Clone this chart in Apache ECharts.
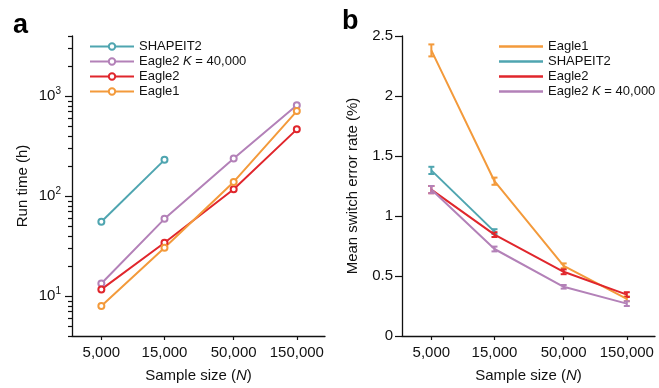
<!DOCTYPE html>
<html>
<head>
<meta charset="utf-8">
<script src="https://cdn.jsdelivr.net/npm/echarts@6/dist/echarts.min.js"></script>
<style>
  html, body { margin: 0; padding: 0; background: #fff; }
  #main { width: 659px; height: 388px; }
</style>
</head>
<body>
<div id="main"></div>
<script>
// sample sizes (x, log scaled in both panels)
var sampleSizes = [5000, 15000, 50000, 150000];

// panel a: run time in hours
var runShapeit2 = [55.5, 231];
var runEagle2K = [13.4, 59.4, 238, 811];
var runEagle2 = [11.7, 34.2, 117.5, 466];
var runEagle1 = [8.0, 30.5, 139, 710];

// panel b: mean switch error rate (%) and half-width of error bars
var errEagle1 = [2.38, 1.29, 0.585, 0.31];
var errShapeit2 = [1.38, 0.87];
var errEagle2 = [1.22, 0.845, 0.535, 0.345];
var errEagle2K = [1.22, 0.725, 0.41, 0.27];
var sdEagle1 = [0.05, 0.03, 0.02, 0.02];
var sdShapeit2 = [0.03, 0.02];
var sdEagle2 = [0.03, 0.02, 0.02, 0.02];
var sdEagle2K = [0.03, 0.02, 0.015, 0.02];

var runMajorTicks = [10, 100, 1000];
var runMinorTicks = [4, 5, 6, 7, 8, 9, 20, 30, 40, 50, 60, 70, 80, 90,
  200, 300, 400, 500, 600, 700, 800, 900, 2000, 3000, 4000];

var NAME_S = 'SHAPEIT2';
var NAME_K = 'Eagle2 K = 40,000';
var NAME_2 = 'Eagle2';
var NAME_1 = 'Eagle1';

var colors = {};
colors[NAME_S] = '#4fa5b0';
colors[NAME_K] = '#b381b8';
colors[NAME_2] = '#e0262c';
colors[NAME_1] = '#f39a3b';

var FONT = 'Liberation Sans, Arial, sans-serif';

var chartDom = document.getElementById('main');
var myChart = echarts.init(chartDom, null, { renderer: 'canvas' });

const pairs = (vals) => vals.map((v, i) => [sampleSizes[i], v]);
const bars = (vals, sd) => vals.map((v, i) => [sampleSizes[i], v - sd[i], v + sd[i]]);
const fmtN = (v) => Number(v).toLocaleString('en-US');
const italicK = (name) => name.replace(' K ', ' {i|K} ');

function xAxisFor(gridIndex) {
  return {
    type: 'log',
    gridIndex: gridIndex,
    min: 3000,
    max: 245000,
    name: 'Sample size ({i|N})',
    nameLocation: 'middle',
    nameGap: 32,
    nameTextStyle: {
      fontSize: 15, color: '#111', fontFamily: FONT,
      rich: { i: { fontStyle: 'italic', fontSize: 15, fontFamily: FONT, color: '#111' } }
    },
    axisLine: { lineStyle: { color: '#111', width: 1.3 } },
    axisTick: { show: true, length: 4, customValues: sampleSizes, lineStyle: { color: '#111', width: 1.2 } },
    axisLabel: { customValues: sampleSizes, formatter: fmtN, fontSize: 15, color: '#111', fontFamily: FONT, margin: 9 },
    splitLine: { show: false },
    minorTick: { show: false }
  };
}

function errorBars(name, vals, sd) {
  return {
    name: name,
    type: 'custom',
    xAxisIndex: 1,
    yAxisIndex: 2,
    data: bars(vals, sd),
    z: 3,
    renderItem: function (params, api) {
      var lo = api.coord([api.value(0), api.value(1)]);
      var hi = api.coord([api.value(0), api.value(2)]);
      var style = { stroke: colors[name], lineWidth: 2 };
      var cap = 3;
      return {
        type: 'group',
        children: [
          { type: 'line', shape: { x1: lo[0], y1: lo[1], x2: hi[0], y2: hi[1] }, style: style },
          { type: 'line', shape: { x1: lo[0] - cap, y1: lo[1], x2: lo[0] + cap, y2: lo[1] }, style: style },
          { type: 'line', shape: { x1: hi[0] - cap, y1: hi[1], x2: hi[0] + cap, y2: hi[1] }, style: style }
        ]
      };
    }
  };
}

function runLine(name, vals) {
  return {
    name: name,
    type: 'line',
    xAxisIndex: 0,
    yAxisIndex: 0,
    data: pairs(vals),
    color: colors[name],
    symbol: 'emptyCircle',
    symbolSize: 6,
    lineStyle: { width: 2 },
    itemStyle: { borderWidth: 2 }
  };
}

function errLine(name, vals) {
  return {
    name: name,
    type: 'line',
    xAxisIndex: 1,
    yAxisIndex: 2,
    data: pairs(vals),
    color: colors[name],
    symbol: 'none',
    lineStyle: { width: 2 }
  };
}

var legendText = {
  fontSize: 13, color: '#111', lineHeight: 15, fontFamily: FONT,
  rich: { i: { fontStyle: 'italic', fontSize: 13, color: '#111', fontFamily: FONT } }
};

var option = {
  animation: false,
  textStyle: { fontFamily: FONT },
  grid: [
    { left: 72, top: 36, width: 253, height: 308 },
    { left: 402, top: 36, width: 253, height: 308 }
  ],
  xAxis: [xAxisFor(0), xAxisFor(1)],
  yAxis: [
    {
      type: 'log',
      gridIndex: 0,
      position: 'left',
      min: 4,
      max: 4000,
      name: 'Run time (h)',
      nameLocation: 'middle',
      nameGap: 42,
      nameTextStyle: { fontSize: 15, color: '#111', fontFamily: FONT },
      axisLine: { lineStyle: { color: '#111', width: 1.3 } },
      axisTick: { show: true, length: 7, customValues: runMajorTicks, lineStyle: { color: '#111', width: 1.2 } },
      axisLabel: {
        customValues: runMajorTicks,
        fontSize: 15,
        color: '#111',
        margin: 11,
        formatter: function (v) { return '10{sup|' + Math.round(Math.log10(v)) + '}'; },
        rich: { sup: { fontSize: 10, color: '#111', fontFamily: FONT, padding: [0, 0, 10, 0] } }
      },
      splitLine: { show: false }
    },
    {
      // minor ticks only, overlaid on the same left axis
      type: 'log',
      gridIndex: 0,
      position: 'left',
      offset: 0,
      min: 4,
      max: 4000,
      axisLine: { show: false },
      axisTick: { show: true, length: 4, customValues: runMinorTicks, lineStyle: { color: '#111', width: 1.2 } },
      axisLabel: { show: false },
      splitLine: { show: false }
    },
    {
      type: 'value',
      gridIndex: 1,
      min: 0,
      max: 2.5,
      interval: 0.5,
      name: 'Mean switch error rate (%)',
      nameLocation: 'middle',
      nameGap: 42,
      nameTextStyle: { fontSize: 15, color: '#111', fontFamily: FONT },
      axisLine: { show: true, lineStyle: { color: '#111', width: 1.3 } },
      axisTick: { show: true, length: 7, lineStyle: { color: '#111', width: 1.2 } },
      axisLabel: { fontSize: 15, color: '#111', margin: 9 },
      splitLine: { show: false }
    }
  ],
  legend: [
    {
      data: [NAME_S, NAME_K, NAME_2, NAME_1],
      orient: 'vertical',
      left: 84,
      top: 34,
      itemWidth: 44,
      itemHeight: 8,
      itemGap: 0,
      selectedMode: false,
      formatter: italicK,
      textStyle: legendText
    },
    {
      data: [NAME_1, NAME_S, NAME_2, NAME_K],
      orient: 'vertical',
      left: 494,
      top: 34,
      icon: 'rect',
      itemWidth: 44,
      itemHeight: 2.5,
      itemGap: 0,
      selectedMode: false,
      formatter: italicK,
      textStyle: legendText
    }
  ],
  graphic: [
    { type: 'text', left: 13, top: 12, style: { text: 'a', font: 'bold 27px ' + FONT, fill: '#000' } },
    { type: 'text', left: 342, top: 8, style: { text: 'b', font: 'bold 27px ' + FONT, fill: '#000' } }
  ],
  series: [
    runLine(NAME_S, runShapeit2),
    runLine(NAME_K, runEagle2K),
    runLine(NAME_2, runEagle2),
    runLine(NAME_1, runEagle1),
    errLine(NAME_1, errEagle1),
    errLine(NAME_S, errShapeit2),
    errLine(NAME_2, errEagle2),
    errLine(NAME_K, errEagle2K),
    errorBars(NAME_1, errEagle1, sdEagle1),
    errorBars(NAME_S, errShapeit2, sdShapeit2),
    errorBars(NAME_2, errEagle2, sdEagle2),
    errorBars(NAME_K, errEagle2K, sdEagle2K)
  ]
};

option && myChart.setOption(option);
</script>
</body>
</html>
